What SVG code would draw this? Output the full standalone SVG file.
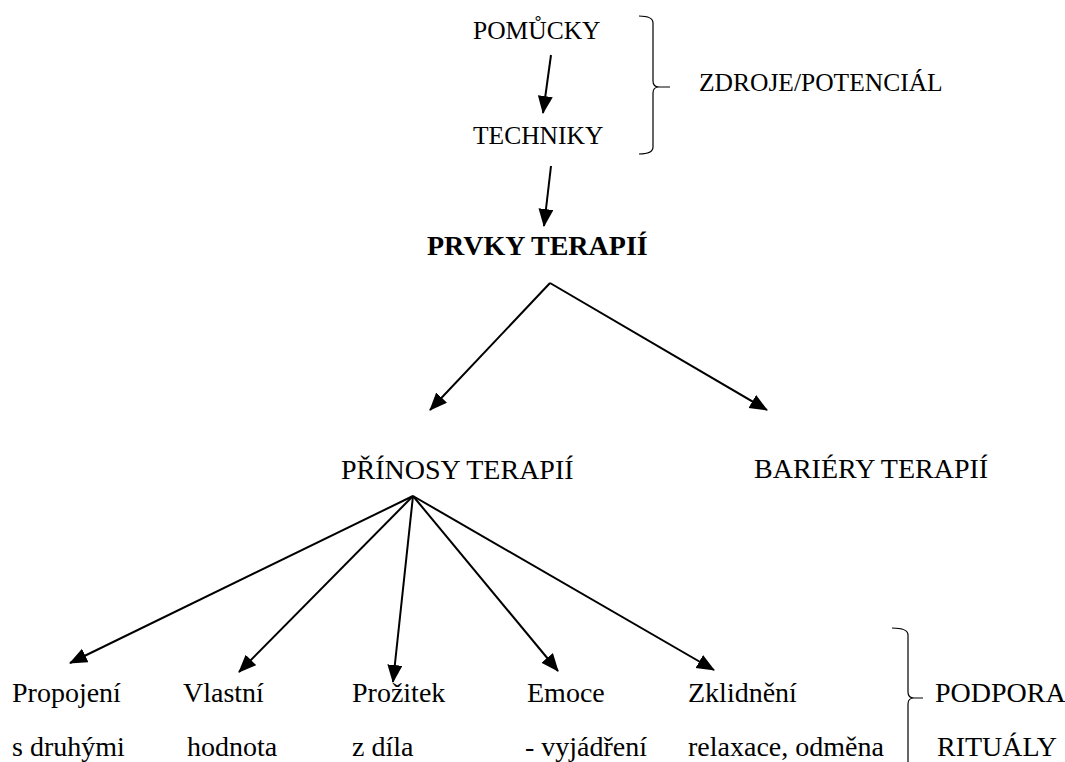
<svg xmlns="http://www.w3.org/2000/svg" width="1065" height="762" viewBox="0 0 1065 762">
  <style>
    text { fill: #000; }
    .top { font-size: 25.5px; }
    .mid { font-size: 28px; }
    .bold { font-size: 28px; font-weight: bold; }
    .conn { stroke: #000; stroke-width: 2; fill: none; marker-end: url(#arrow); }
    .brace { stroke: #000; stroke-width: 1.2; fill: none; }
  </style>
  <defs>
    <marker id="arrow" markerUnits="userSpaceOnUse" markerWidth="20" markerHeight="16" refX="17" refY="7.5" orient="auto">
      <path d="M0,0 L18,7.5 L0,15 z" fill="#000"/>
    </marker>
  </defs>
  <rect width="1065" height="762" fill="#fff"/>

  <g id="connectors">
    <line class="conn" x1="551" y1="55" x2="543" y2="113"/>
    <line class="conn" x1="551" y1="166" x2="544" y2="226"/>
    <line class="conn" x1="550" y1="283" x2="430" y2="410"/>
    <line class="conn" x1="550" y1="283" x2="767" y2="410"/>
    <line class="conn" x1="413" y1="496" x2="70" y2="663"/>
    <line class="conn" x1="413" y1="496" x2="239" y2="672"/>
    <line class="conn" x1="413" y1="496" x2="393" y2="682"/>
    <line class="conn" x1="413" y1="496" x2="558" y2="671"/>
    <line class="conn" x1="413" y1="496" x2="714" y2="670"/>
  </g>

  <g font-family="'Liberation Serif', 'DejaVu Serif', serif">
  <g id="pomucky"><text class="top" x="473" y="39">POMŮCKY</text></g>
  <g id="techniky"><text class="top" x="473" y="144">TECHNIKY</text></g>
  <g id="zdroje">
    <path class="brace" d="M639,16 Q653,16 653,23 L653,81 Q653,87 659,87 L670,87 M659,87 Q653,87 653,93 L653,147 Q653,154 639,154"/>
    <text class="top" x="699" y="91">ZDROJE/POTENCIÁL</text>
  </g>
  <g id="prvky"><text class="bold" x="427" y="255">PRVKY TERAPIÍ</text></g>
  <g id="prinosy"><text class="mid" x="341" y="479">PŘÍNOSY TERAPIÍ</text></g>
  <g id="bariery"><text class="mid" x="754" y="478">BARIÉRY TERAPIÍ</text></g>

  <g id="propojeni">
    <text class="mid" x="12" y="702">Propojení</text>
    <text class="mid" x="12" y="756">s druhými</text>
  </g>
  <g id="vlastni">
    <text class="mid" x="183" y="702">Vlastní</text>
    <text class="mid" x="187" y="756">hodnota</text>
  </g>
  <g id="prozitek">
    <text class="mid" x="352" y="702">Prožitek</text>
    <text class="mid" x="352" y="756">z díla</text>
  </g>
  <g id="emoce">
    <text class="mid" x="527" y="702">Emoce</text>
    <text class="mid" x="525" y="756">- vyjádření</text>
  </g>
  <g id="zklidneni">
    <text class="mid" x="688" y="702">Zklidnění</text>
    <text class="mid" x="688" y="756">relaxace, odměna</text>
  </g>
  <g id="podpora">
    <path class="brace" d="M892,628 Q908,628 908,635 L908,692 Q908,698 914,698 L923,698 M914,698 Q908,698 908,704 L908,770"/>
    <text class="mid" x="935" y="702">PODPORA</text>
    <text class="mid" x="937" y="756">RITUÁLY</text>
  </g>
  </g>
</svg>
